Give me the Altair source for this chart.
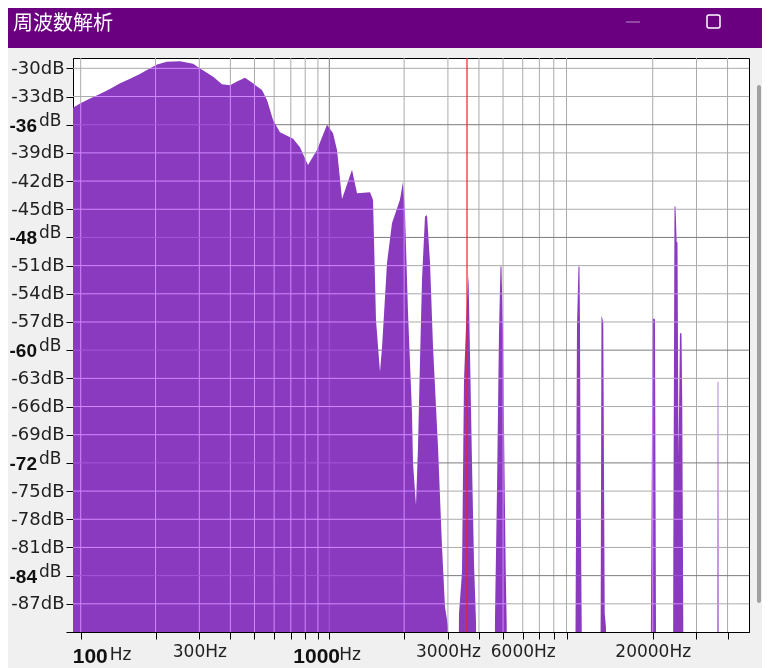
import altair as alt
import pandas as pd

# ---------------- data ----------------
title_text = "周波数解析"

freq_hz = [93.1, 99.4, 109, 120, 131, 144, 158, 173, 190, 203, 222, 251, 283, 296, 310, 341,
           370, 399, 425, 458, 493, 536, 562, 594, 633, 715, 762, 821, 892, 979, 1035, 1074,
           1125, 1234, 1293, 1458, 1499, 1541, 1599, 1629, 1707, 1787, 1924, 1979, 2016,
           2073, 2151, 2171, 2232, 2274, 2317, 2360, 2426, 2472, 2542, 2613, 2737, 2840,
           2920, 3002, 3030,
           3294, 3325, 3418, 3482, 3580, 3630, 3681, 3750, 3820, 3892, 3928,
           4618, 4640, 4726, 4815, 4882, 4927, 4996, 5043, 5123, 5171, 5185,
           9735, 9798, 9917, 10056, 10149, 10196, 10263, 10358, 10387,
           12270, 12350, 12440, 12650, 12820, 12970, 13030,
           19590, 19680, 19990, 20420, 20610, 20710,
           24130, 24200, 24470, 24700, 24970, 25160, 25390, 25740, 26100, 26290, 26540, 26610,
           36370, 36510, 36710, 36850, 48790]

level_db = [-34.2, -33.75, -33.2, -32.7, -32.2, -31.6, -31.1, -30.6, -30.0, -29.6, -29.3,
            -29.25, -29.5, -29.85, -30.2, -30.9, -31.7, -31.8, -31.4, -31.0, -31.6, -32.3,
            -33.4, -35.5, -36.8, -37.5, -38.4, -40.3, -38.7, -36.0, -36.9, -38.7, -43.9,
            -40.8, -43.3, -43.2, -44.0, -56.8, -62.3, -59.8, -50.7, -46.5, -44.0, -42.1,
            -45.4, -56.0, -66.7, -72.0, -76.5, -70.3, -61.0, -52.5, -45.8, -45.6, -50.7,
            -59.6, -70.3, -80.9, -87.3, -89.4, -100,
            -100, -88.0, -83.7, -63.2, -54.7, -52.0, -60.3, -72.0, -82.6, -89.0, -100,
            -100, -88.5, -75.0, -58.2, -51.1, -51.1, -58.0, -68.0, -83.2, -89.0, -100,
            -100, -85.9, -57.5, -51.1, -51.1, -57.5, -75.4, -89.0, -100,
            -100, -88.0, -56.3, -57.0, -88.0, -89.5, -100,
            -100, -87.3, -56.6, -56.7, -88.7, -100,
            -100, -81.8, -44.7, -44.7, -48.5, -48.5, -71.3, -58.2, -58.2, -65.5, -89.0, -100,
            -100, -63.4, -63.4, -100, -100]

floor_db = -90
top_db = -28.9
min_hz = 93.1
max_hz = 48790

cursor_hz = [3580]

x_ticks = [100, 200, 300, 400, 500, 600, 700, 800, 900, 1000,
           2000, 3000, 4000, 5000, 6000, 7000, 8000, 9000, 20000, 30000, 40000]
x_grid_minor = [100, 200, 300, 400, 500, 600, 700, 800, 900,
                2000, 3000, 4000, 5000, 6000, 7000, 8000, 9000, 20000, 30000, 40000]
x_grid_major = [1000]
x_plain_labels = [300, 3000, 6000, 20000]

y_ticks = list(range(-30, -91, -3))
y_grid_major = [-36, -48, -60, -72, -84]
y_grid_minor = [v for v in range(-30, -88, -3) if v not in y_grid_major]
y_bold_labels = ["-36", "-48", "-60", "-72", "-84"]

# ---------------- styling ----------------
PURPLE = "#8a3abe"
BAR = "#6a0080"
W, H = 676, 574

xs = alt.Scale(type="log", domain=[min_hz, max_hz], nice=False)
ys = alt.Scale(domain=[floor_db, top_db], nice=False, zero=False)

spec = pd.DataFrame({"f": freq_hz, "db": level_db})
spec["base"] = floor_db

plain_expr = "indexof(%s, datum.value) >= 0 ? datum.value + 'Hz' : ''" % str(x_plain_labels)
major_expr = "indexof(%s, datum.value) >= 0 || datum.value <= -90 ? '' : datum.value + 'dB'" % str(y_grid_major)

x_axis = alt.Axis(values=x_ticks, labelExpr=plain_expr, title=None, grid=False, orient="bottom",
                  tickSize=7, tickColor="#000", domainColor="#000",
                  labelFont="DejaVu Sans", labelFontSize=17, labelColor="#222",
                  labelPadding=4, labelOverlap=False, labelFlush=False)
y_axis = alt.Axis(values=y_ticks, labelExpr=major_expr, title=None, grid=False, orient="left",
                  tickSize=7, tickColor="#000", domainColor="#000",
                  labelFont="DejaVu Sans", labelFontSize=18, labelColor="#222",
                  labelPadding=2, labelOverlap=False, labelFlush=False)


def vrules(vals, color):
    return alt.Chart(pd.DataFrame({"f": vals})).mark_rule(
        color=color, strokeWidth=1, blend="luminosity").encode(
        x=alt.X("f:Q", scale=xs, axis=None))


def hrules(vals, color):
    return alt.Chart(pd.DataFrame({"d": vals})).mark_rule(
        color=color, strokeWidth=1, blend="luminosity").encode(
        y=alt.Y("d:Q", scale=ys, axis=None))


area = alt.Chart(spec).mark_area(color=PURPLE, clip=True, interpolate="linear").encode(
    x=alt.X("f:Q", scale=xs, axis=x_axis),
    y=alt.Y("db:Q", scale=ys, axis=y_axis),
    y2="base:Q",
)

# grid lines drawn over the spectrum: grey on white, lavender on purple
grid = [vrules(x_grid_minor, "#ababab"), vrules(x_grid_major, "#7c7c7c"),
        hrules(y_grid_minor, "#ababab"), hrules(y_grid_major, "#7c7c7c")]

cursor = alt.Chart(pd.DataFrame({"f": cursor_hz})).mark_rule(
    color="#f02020", opacity=0.8, strokeWidth=1.5).encode(x=alt.X("f:Q", scale=xs, axis=None))

# bold major labels on the y axis
ybold_df = pd.DataFrame({"d": [float(s) for s in y_bold_labels], "t": y_bold_labels})
ybold_num = alt.Chart(ybold_df).mark_text(
    align="right", baseline="alphabetic", font="Liberation Sans", fontWeight="bold",
    fontSize=19, color="#111", dy=7).encode(
    x=alt.value(-36), y=alt.Y("d:Q", scale=ys, axis=None), text="t:N")
ybold_unit = alt.Chart(ybold_df).mark_text(
    align="left", baseline="alphabetic", font="DejaVu Sans", fontSize=17,
    color="#222", dy=1).encode(
    x=alt.value(-34), y=alt.Y("d:Q", scale=ys, axis=None), text=alt.value("dB"))


# bold major labels on the x axis
def xbold(f, label, dx_num, dx_unit):
    d = pd.DataFrame({"f": [f], "t": [label]})
    num = alt.Chart(d).mark_text(
        align="left", baseline="alphabetic", font="Liberation Sans", fontWeight="bold",
        fontSize=21, color="#111", dx=dx_num).encode(
        x=alt.X("f:Q", scale=xs, axis=None), y=alt.value(H + 31), text="t:N")
    unit = alt.Chart(d).mark_text(
        align="left", baseline="alphabetic", font="DejaVu Sans", fontSize=17,
        color="#222", dx=dx_unit).encode(
        x=alt.X("f:Q", scale=xs, axis=None), y=alt.value(H + 28), text=alt.value("Hz"))
    return [num, unit]


xb = xbold(100, "100", -8, 29) + xbold(1000, "1000", -36, 10)

one = pd.DataFrame({"a": [0]})
title_bar = alt.Chart(one).mark_rect(color=BAR).encode(
    x=alt.value(-65), x2=alt.value(W + 13), y=alt.value(-50), y2=alt.value(-10))
title_lbl = alt.Chart(one).mark_text(
    align="left", baseline="middle", font="Noto Sans CJK JP", fontSize=20, color="white").encode(
    x=alt.value(-60), y=alt.value(-34), text=alt.value(title_text))
min_btn = alt.Chart(one).mark_rule(color="#b892c8", strokeWidth=1).encode(
    x=alt.value(553), x2=alt.value(567), y=alt.value(-36))
max_btn = alt.Chart(one).mark_rect(filled=False, stroke="white", strokeWidth=1.5,
                                   cornerRadius=2).encode(
    x=alt.value(634), x2=alt.value(647), y=alt.value(-43), y2=alt.value(-30))
scroll = alt.Chart(one).mark_rect(color="#a0a0a0", cornerRadius=2).encode(
    x=alt.value(W + 8), x2=alt.value(W + 12), y=alt.value(27), y2=alt.value(545))

chart = alt.layer(
    title_bar, title_lbl, min_btn, max_btn, scroll,
    area, *grid, cursor, ybold_num, ybold_unit, *xb
).resolve_axis(
    x="independent", y="independent"
).properties(
    width=W, height=H,
    autosize=alt.AutoSizeParams(type="none"),
    padding={"left": 65, "top": 50, "right": 13, "bottom": 36},
    background="#f0f0f0",
).configure_view(stroke="#000", strokeWidth=1, fill="white")

chart.save("out.html", embed_options={"renderer": "svg", "actions": False})
